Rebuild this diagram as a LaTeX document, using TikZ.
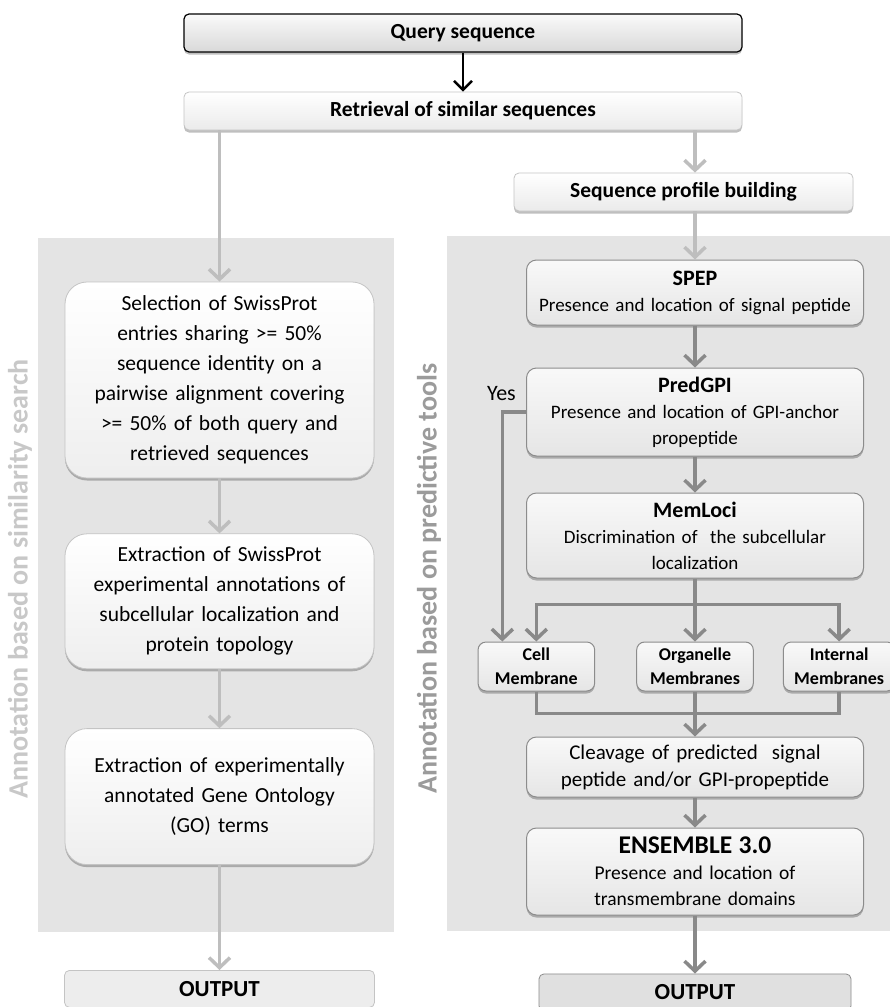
\documentclass[tikz,border=0pt]{standalone}
\usepackage{fontspec}
\setmainfont{Carlito}
\usetikzlibrary{positioning,arrows.meta,shadows}

\definecolor{panelgray}{HTML}{E4E4E4}
\definecolor{lightline}{HTML}{BEBEBE}
\definecolor{darkline}{HTML}{898989}
\definecolor{lightborder}{HTML}{C4C4C4}
\definecolor{darkborder}{HTML}{8C8C8C}
\definecolor{lighttext}{HTML}{C8C8C8}
\definecolor{darktext}{HTML}{9B9B9B}

\begin{document}
\begin{tikzpicture}[
    x=1pt, y=-1pt,
    boxshadow/.style={drop shadow={shadow xshift=0pt, shadow yshift=-2.5pt, opacity=0.25, fill=black}},
    querybox/.style={rectangle, rounded corners=5pt, draw=black, line width=1.2pt, top color=gray!4, bottom color=gray!30,
        minimum width=558pt, minimum height=38pt, font=\fontsize{21.5}{25}\selectfont\bfseries, boxshadow},
    widebox/.style={rectangle, rounded corners=5pt, draw=lightborder, line width=0.8pt, top color=white, bottom color=gray!16,
        minimum height=38pt, font=\fontsize{21.5}{25}\selectfont\bfseries, boxshadow},
    lbox/.style={rectangle, rounded corners=22pt, draw=lightborder, line width=0.8pt, top color=white, bottom color=gray!13,
        minimum width=309pt, text width=295pt, align=center, font=\fontsize{21.5}{30}\selectfont, boxshadow},
    rbox/.style={rectangle, rounded corners=10pt, draw=darkborder, line width=1pt, top color=gray!5, bottom color=gray!20,
        minimum width=337pt, text width=325pt, align=center, font=\fontsize{19}{26}\selectfont, boxshadow},
    membox/.style={rbox, rounded corners=8pt, minimum width=114pt, text width=110pt, minimum height=49pt,
        font=\fontsize{18}{24}\selectfont\bfseries},
    outbox/.style={rectangle, rounded corners=5pt, line width=0.8pt, minimum height=37pt,
        font=\fontsize{23}{26}\selectfont\bfseries},
    sidelabel/.style={rotate=90, font=\fontsize{28}{32}\selectfont\bfseries, inner sep=0pt},
    blackarrow/.style={draw=black, line width=2.4pt, -{Straight Barb[length=9pt,width=18pt,line width=2.4pt]}},
    larrow/.style={draw=lightline, line width=3.5pt, -{Straight Barb[length=10pt,width=21pt,line width=3.5pt]}},
    rline/.style={draw=darkline, line width=3.5pt},
    rarrow/.style={rline, -{Straight Barb[length=10pt,width=21pt,line width=3.5pt]}}
]
\useasboundingbox (0,0) rectangle (890,1007);

% panels
\fill[panelgray] (38,238) rectangle (394,932);
\fill[panelgray] (447,236) rectangle (890,931);

\node[sidelabel, text=lighttext] (simlabel) at (20,579) {Annotation based on similarity search};
\node[sidelabel, text=darktext] (predlabel) at (429,578.5) {Annotation based on predictive tools};

% top
\node[querybox] (query) at (463,33) {Query sequence};
\node[widebox, minimum width=558pt, below=39pt of query] (retrieval) {Retrieval of similar sequences};
\node[widebox, minimum width=339pt] (seqprof) at (683.5,192) {Sequence profile building};

% similarity search
\node[lbox, minimum height=196pt] (sel) at (219.5,380) {Selection of SwissProt\\ entries sharing >= 50\%\\ sequence identity on a\\ pairwise alignment covering\\ >= 50\% of both query and\\ retrieved sequences};
\node[lbox, minimum height=135pt, below=55pt of sel] (extr) {Extraction of SwissProt\\ experimental annotations of\\ subcellular localization and\\ protein topology};
\node[lbox, minimum height=136pt, below=59pt of extr] (goterm) {Extraction of experimentally\\ annotated Gene Ontology\\ (GO) terms};
\node[outbox, draw=lightborder, fill=gray!14, minimum width=310pt, below=105pt of goterm] (lout) {OUTPUT};

% predictive tools
\node[rbox, minimum height=65pt] (spep) at (695,292.5) {{\fontsize{22}{26}\selectfont\bfseries SPEP}\\ Presence and location of signal peptide};
\node[rbox, minimum height=88pt, below=42pt of spep] (predgpi) {{\fontsize{22}{26}\selectfont\bfseries PredGPI}\\ Presence and location of GPI-anchor\\ propeptide};
\node[rbox, minimum height=85pt, below=36pt of predgpi] (memloci) {{\fontsize{22}{26}\selectfont\bfseries MemLoci}\\ Discrimination of~ the subcellular\\ localization};
\node[membox, below=63pt of memloci] (organ) {Organelle\\ Membranes};
\node[membox, left=41pt of organ] (cell) {Cell\\ Membrane};
\node[membox, minimum width=107pt, text width=105pt, right=29pt of organ] (internal) {Internal\\ Membranes};
\node[rbox, minimum height=60pt, font=\fontsize{21}{27}\selectfont, below=45pt of organ] (cleavage) {Cleavage of predicted~ signal\\ peptide and/or GPI-propeptide};
\node[rbox, minimum height=87pt, font=\fontsize{19.5}{26}\selectfont, below=30pt of cleavage] (ensemble) {{\fontsize{25.5}{28}\selectfont\bfseries ENSEMBLE 3.0}\\ Presence and location of\\ transmembrane domains};
\node[outbox, draw=darkborder, fill=gray!24, minimum width=312pt, below=58pt of ensemble] (rout) {OUTPUT};

\node[font=\fontsize{22}{26}\selectfont, inner sep=0pt, left=10pt of predgpi.west, yshift=18pt] (yes) {Yes};

\coordinate[below=26pt of memloci.south] (split);
\coordinate[above=23pt of cleavage.north] (merge);

% connectors
\draw[blackarrow] (query) -- (retrieval);
\draw[larrow] (retrieval.south -| sel.north) -- (sel.north);
\draw[larrow] (sel) -- (extr);
\draw[larrow] (extr) -- (goterm);
\draw[larrow] (goterm) -- (lout);

\draw[larrow] (retrieval.south -| spep.north) -- (seqprof.north -| spep.north);
\draw[larrow] (seqprof.south -| spep.north) -- (spep.north);
\draw[rarrow] (spep) -- (predgpi);
\draw[rarrow] (predgpi) -- (memloci);
\draw[rarrow] (predgpi.west) -| ([xshift=-34pt]cell.north);
\draw[rline] (memloci) -- (split);
\draw[rarrow] (split) -| (cell);
\draw[rarrow] (split) -| (internal);
\draw[rarrow] (split) -- (organ);
\draw[rline] (cell) |- (merge);
\draw[rline] (internal) |- (merge);
\draw[rarrow] (organ) -- (cleavage);
\draw[rarrow] (cleavage) -- (ensemble);
\draw[rarrow] (ensemble) -- (rout);
\end{tikzpicture}
\end{document}
